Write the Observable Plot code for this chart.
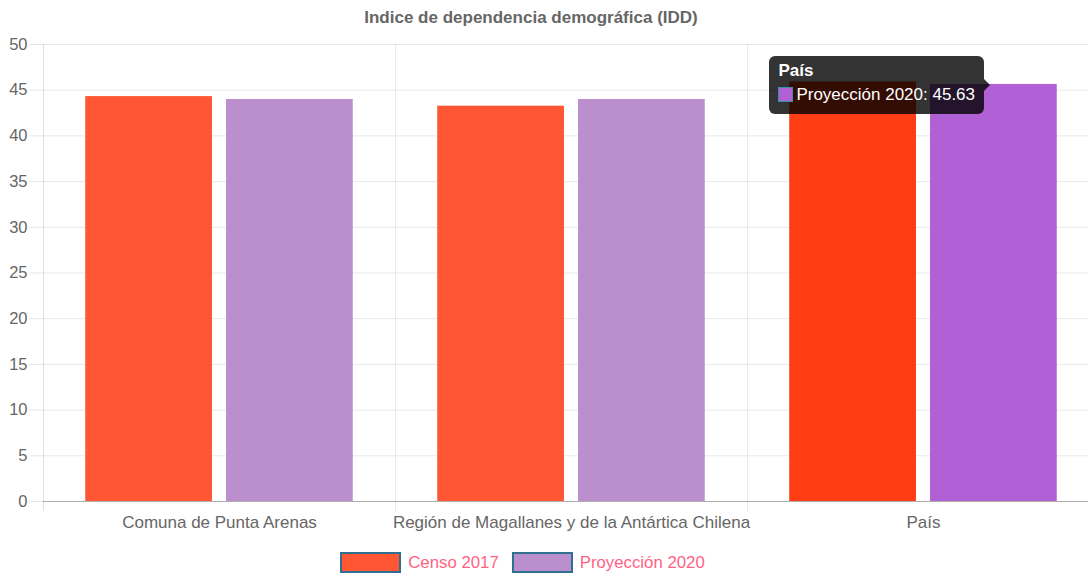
<!DOCTYPE html>
<html><head><meta charset="utf-8">
<script src="https://cdn.jsdelivr.net/npm/d3@7"></script>
<script src="https://cdn.jsdelivr.net/npm/@observablehq/plot@0.6"></script>
<style>
body{margin:0;background:#fff;font-family:"Liberation Sans",Arial,sans-serif}
#wrap{position:relative;width:1091px;height:574px;overflow:hidden}
#title{position:absolute;left:0;top:8px;width:1062px;text-align:center;font-weight:bold;font-size:17px;color:#666}
#chart{position:absolute;left:0;top:36px}
#legend{position:absolute;left:0;top:552px;width:1058px;display:flex;justify-content:center;align-items:center;font-size:16.8px;color:#ff6384}
.sw{width:57px;height:17px;border:2px solid #2f6f8f;margin-right:7px}
.lt{margin-right:13px}
#tip{position:absolute;background:rgba(0,0,0,0.8);border-radius:6px;color:#fff;font-size:17px;padding:0 9px;box-sizing:border-box}
#tip .t{font-weight:bold;margin-top:4px;height:22px;line-height:22px}
#tip .b{display:flex;align-items:center;height:26px;line-height:26px}
#tip .sq{width:13px;height:13px;border:1px solid #3b8fa8;margin-right:3px}
#caret{position:absolute;width:0;height:0;border-top:6px solid transparent;border-bottom:6px solid transparent;border-left:6px solid rgba(0,0,0,0.8)}
</style></head>
<body>
<div id="wrap">
  <div id="title"></div>
  <div id="chart"></div>
  <div id="legend"></div>
</div>
<script>
const title = "Indice de dependencia demográfica (IDD)";
const categories = ["Comuna de Punta Arenas", "Región de Magallanes y de la Antártica Chilena", "País"];
const seriesNames = ["Censo 2017", "Proyección 2020"];
const censo2017 = [44.3, 43.25, 45.9];
const proyeccion2020 = [43.98, 43.98, 45.63];
const yTicks = [0, 5, 10, 15, 20, 25, 30, 35, 40, 45, 50];
const tooltipCategory = "País";
const tooltipSeries = "Proyección 2020";
const tooltipValue = 45.63;

const colors = {"Censo 2017": "#ff5733", "Proyección 2020": "#bb8fce"};
const hoverColors = {"Censo 2017": "#ff3d14", "Proyección 2020": "#b160d6"};

const data = [];
categories.forEach((c, i) => {
  data.push({category: c, series: seriesNames[0], value: censo2017[i]});
  data.push({category: c, series: seriesNames[1], value: proyeccion2020[i]});
});

document.getElementById("title").textContent = title;

const W = 1091, H = 504;
const x0 = 43, x1 = 1099;
const bw = (x1 - x0) / categories.length;
const fillOf = d => d.category === tooltipCategory ? hoverColors[d.series] : colors[d.series];

const chart = Plot.plot({
  width: W, height: H,
  marginTop: 8, marginBottom: 39, marginLeft: x0, marginRight: 3,
  style: {fontFamily: "Liberation Sans, Arial, sans-serif", fontSize: "16px", color: "#666", overflow: "visible"},
  x: {domain: categories, range: [x0, x1], padding: 0, label: null},
  y: {domain: [0, 50], label: null},
  marks: [
    Plot.gridY(yTicks, {stroke: "#000", strokeOpacity: 0.09}),
    Plot.ruleX(categories.slice(1), {x: d => d, dx: -bw / 2, stroke: "#000", strokeOpacity: 0.08, insetBottom: -10}),
    Plot.barY(data.filter(d => d.series === seriesNames[0]), {x: "category", y: "value", fill: fillOf, insetLeft: 0.12 * bw, insetRight: 0.52 * bw}),
    Plot.barY(data.filter(d => d.series === seriesNames[1]), {x: "category", y: "value", fill: fillOf, insetLeft: 0.52 * bw, insetRight: 0.12 * bw}),
    Plot.axisY(yTicks, {tickSize: 14, tickPadding: 2, stroke: "#000", strokeOpacity: 0.1, fill: "#666", fontSize: 16.5, label: null}),
    Plot.axisX({tickSize: 0, tickPadding: 14, fill: "#666", fontSize: 17, label: null}),
    Plot.ruleX([categories[0]], {x: d => d, dx: -bw / 2, stroke: "#000", strokeOpacity: 0.12, insetBottom: -10}),
    Plot.ruleY([0], {stroke: "#000", strokeOpacity: 0.25})
  ]
});
document.getElementById("chart").appendChild(chart);

// legend
const legend = document.getElementById("legend");
seriesNames.forEach(s => {
  const sw = document.createElement("div");
  sw.className = "sw"; sw.style.background = colors[s];
  const t = document.createElement("span");
  t.className = "lt"; t.textContent = s;
  legend.appendChild(sw); legend.appendChild(t);
});

// tooltip anchored to the hovered bar
const xs = chart.scale("x"), ys = chart.scale("y");
const bx = xs.apply(tooltipCategory) + 0.52 * bw + 0.36 * bw / 2;
const by = ys.apply(tooltipValue) + 36;
const wrap = document.getElementById("wrap");
const tip = document.createElement("div");
tip.id = "tip";
tip.innerHTML = `<div class="t"></div><div class="b"><div class="sq"></div><span></span></div>`;
tip.querySelector(".t").textContent = tooltipCategory;
tip.querySelector(".sq").style.background = hoverColors[tooltipSeries];
tip.querySelector("span").textContent = `${tooltipSeries}: ${tooltipValue}`;
wrap.appendChild(tip);
const tw = tip.offsetWidth, th = 58;
tip.style.height = th + "px";
tip.style.left = (bx - 9 - tw) + "px";
tip.style.top = (by - th / 2 + 1) + "px";
const caret = document.createElement("div");
caret.id = "caret";
caret.style.left = (bx - 9) + "px";
caret.style.top = (by - 6 + 1) + "px";
wrap.appendChild(caret);
</script>
</body></html>
